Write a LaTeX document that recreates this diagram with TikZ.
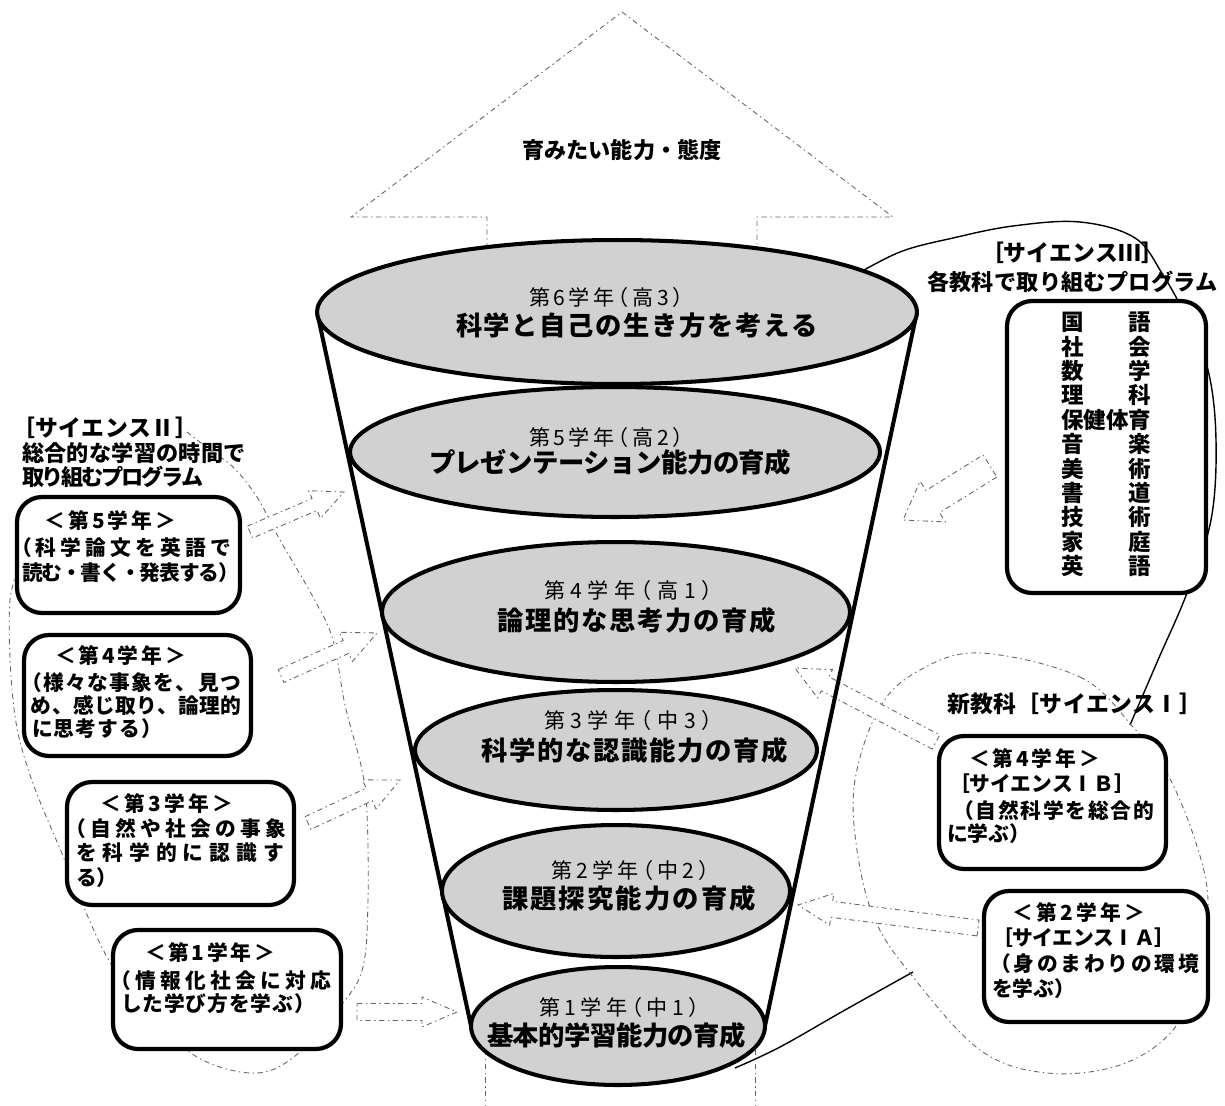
\documentclass[tikz,border=0pt]{standalone}
\usepackage{fontspec}
\setmainfont{Noto Sans CJK JP}
\usetikzlibrary{calc,shapes.geometric}
\makeatletter
\newcommand\spreadto[2]{\hbox to #1{\@tfor\sp@c:=#2\do{\sp@c\hskip 0pt plus 1fil minus 1fil}\unskip}}
\makeatother
\newdimen\pxu \pxu=0.02cm
\newcommand\fBx{\bfseries\fontsize{11.8pt}{14pt}\selectfont}
\newcommand\fTt{\bfseries\fontsize{12.6pt}{15pt}\selectfont}
\newcommand\fTb{\bfseries\fontsize{13pt}{15pt}\selectfont}
\newcommand\fEa{\fontsize{12pt}{14pt}\selectfont\addfontfeature{RawFeature=+halt}}
\newcommand\fEb{\bfseries\fontsize{15pt}{18pt}\selectfont}
\newcommand\fS{\bfseries\fontsize{12.8pt}{15pt}\selectfont}
\newcommand\tline[5]{\node[tl,font=#1] (#2) at (#3) {\spreadto{#4\pxu}{#5}};}
\newcommand\hollowarrow[5]{%
  \coordinate (neck) at ($(#2)!#5!(#1)$);
  \draw[harrow] ($(#1)!#3!90:(#2)$) -- ($(neck)!#3!90:(#2)$) -- ($(neck)!#4!90:(#2)$) -- (#2)
    -- ($(neck)!#4!-90:(#2)$) -- ($(neck)!#3!-90:(#2)$) -- ($(#1)!#3!-90:(#2)$) -- cycle;}
\pgfdeclarelayer{bg}\pgfdeclarelayer{walls}
\pgfsetlayers{bg,walls,main}
\tikzset{
  tl/.style={anchor=base, inner sep=0pt, outer sep=0pt},
  ell/.style={ellipse, draw=black, line width=2.3pt, fill=black!18, inner sep=0pt, outer sep=0pt},
  jbox/.style={draw=black, line width=2.4pt, rounded corners=0.5cm, fill=white, inner sep=0pt},
  wall/.style={line width=2.3pt, line cap=round},
  faint/.style={draw=black!60, line width=0.5pt, dash pattern=on 3pt off 2pt on 0.8pt off 2pt},
  harrow/.style={faint, fill=white},
  thincurve/.style={line width=0.8pt}
}
\begin{document}
\begin{tikzpicture}[x=0.02cm,y=-0.02cm]
\useasboundingbox (0,0) rectangle (1225,1106);

% ---------- funnel ellipses ----------
\node[ell, minimum width=5.88cm, minimum height=2.36cm] (E1) at (618,1026) {};
\node[ell, minimum width=6.96cm, minimum height=2.64cm] (E2) at (616,891) {};
\node[ell, minimum width=8.04cm, minimum height=2.4cm] (E3) at (616,750) {};
\node[ell, minimum width=9.36cm, minimum height=2.8cm] (E4) at (616,612) {};
\node[ell, minimum width=10.6cm, minimum height=2.6cm] (E5) at (615,452) {};
\node[ell, minimum width=12cm, minimum height=2.88cm] (E6) at (617,312) {};

\begin{pgfonlayer}{walls}
\draw[wall] (E6.west) -- (E1.west);
\draw[wall] (E6.east) -- (E1.east);
\end{pgfonlayer}

% ---------- background lines ----------
\begin{pgfonlayer}{bg}
\fill[white] (0,0) rectangle (1225,1106);
% big up arrow
\draw[faint] (487,262) -- (487,217) -- (351,217) -- (622,12) -- (893,217) -- (757,217) -- (757,262);
\draw[faint] (485,1050) -- (485,1106);
\draw[faint] (755,1050) -- (755,1106);
% Science II region
\draw[faint] plot[smooth, tension=0.6] coordinates {(25,560) (10,600) (13,700) (28,769) (63,856) (107,957) (150,1010) (197,1057) (257,1073) (300,1052) (343,1003) (363,967) (368,900) (367,813) (362,770) (345,705) (333,640) (313,597) (280,540) (257,497) (233,467) (210,450) (187,432)};
% Science III region
\draw[thincurve] plot[smooth, tension=0.6] coordinates {(850,278) (900,252) (953,238) (1013,226) (1080,222) (1135,238) (1163,275) (1185,315) (1208,370) (1216,440) (1211,520) (1187,593) (1158,660) (1130,725)};
\draw[thincurve] plot[smooth, tension=0.6] coordinates {(913,972) (845,1010) (780,1047) (735,1068)};
% Science I region
\draw[faint] plot[smooth cycle, tension=0.6] coordinates {(980,653) (1080,677) (1133,727) (1167,773) (1195,840) (1208,900) (1200,970) (1173,1030) (1120,1065) (1047,1073) (980,1050) (913,977) (875,920) (857,850) (855,780) (880,707) (920,670)};
% hollow arrows
\coordinate (a5t) at (250,532); \coordinate (a5h) at (344,492);
\coordinate (a4t) at (281,676); \coordinate (a4h) at (377,633);
\coordinate (a3t) at (308,823); \coordinate (a3h) at (400,780);
\coordinate (a1t) at (357,1012); \coordinate (a1h) at (457,1012);
\coordinate (a6t) at (990,466); \coordinate (a6h) at (903,520);
\coordinate (aBt) at (936,742); \coordinate (aBh) at (795,668);
\coordinate (aAt) at (978,928); \coordinate (aAh) at (798,905);
\hollowarrow{a5t}{a5h}{0.13cm}{0.3cm}{0.64cm}
\hollowarrow{a4t}{a4h}{0.14cm}{0.32cm}{0.68cm}
\hollowarrow{a3t}{a3h}{0.14cm}{0.32cm}{0.68cm}
\hollowarrow{a1t}{a1h}{0.17cm}{0.3cm}{0.7cm}
\hollowarrow{a6t}{a6h}{0.26cm}{0.48cm}{0.7cm}
\hollowarrow{aBt}{aBh}{0.16cm}{0.32cm}{0.68cm}
\hollowarrow{aAt}{aAh}{0.16cm}{0.32cm}{0.68cm}
\end{pgfonlayer}

% ---------- boxes ----------
\node[jbox, minimum width=4.46cm, minimum height=2.32cm] (B5) at (128.5,555) {};
\node[jbox, minimum width=4.54cm, minimum height=2.42cm] (B4) at (137.5,695.5) {};
\node[jbox, minimum width=4.54cm, minimum height=2.46cm] (B3) at (180.5,843.5) {};
\node[jbox, minimum width=4.56cm, minimum height=2.38cm] (B1) at (227,989.5) {};
\node[jbox, minimum width=4.54cm, minimum height=2.66cm] (BIB) at (1052.5,802.5) {};
\node[jbox, minimum width=4.48cm, minimum height=2.62cm] (BIA) at (1096,956.5) {};
\node[jbox, minimum width=3.98cm, minimum height=5.84cm] (BIII) at (1106.5,447) {};

% ---------- texts ----------
\tline{\fTt}{top}{622,158}{200}{育みたい能力・態度}

\tline{\fEa}{e6a}{606,305}{154}{第6学年（高3）}
\tline{\fEb}{e6b}{637,335}{362}{科学と自己の生き方を考える}
\tline{\fEa}{e5a}{606,445}{154}{第5学年（高2）}
\tline{\fEb}{e5b}{610,472}{362}{プレゼンテーション能力の育成}
\tline{\fEa}{e4a}{628,598}{168}{第4学年（高1）}
\tline{\fEb}{e4b}{636.5,630}{279}{論理的な思考力の育成}
\tline{\fEa}{e3a}{628,728}{168}{第3学年（中3）}
\tline{\fEb}{e3b}{634.5,760}{307}{科学的な認識能力の育成}
\tline{\fEa}{e2a}{630,878}{158}{第2学年（中2）}
\tline{\fEb}{e2b}{629,908}{254}{課題探究能力の育成}
\tline{\fEa}{e1a}{619,1015}{160}{第1学年（中1）}
\tline{\fEb}{e1b}{616.5,1045}{259}{基本的学習能力の育成}

\tline{\fTb}{s2a}{105,436}{186}{［サイエンスⅡ］}
\tline{\fTt}{s2b}{134,461}{224}{総合的な学習の時間で}
\tline{\fTt}{s2c}{113,485}{182}{取り組むプログラム}

\tline{\fBx}{b5a}{110.5,528}{131}{＜第5学年＞}
\tline{\fBx}{b5b}{121,555}{220}{（科学論文を英語で}
\tline{\fBx}{b5c}{130.5,580}{217}{読む・書く・発表する）}
\tline{\fBx}{b4a}{120.5,663}{131}{＜第4学年＞}
\tline{\fBx}{b4b}{131,690}{220}{（様々な事象を、見つ}
\tline{\fBx}{b4c}{136,713}{210}{め、感じ取り、論理的}
\tline{\fBx}{b4d}{97,736}{130}{に思考する）}
\tline{\fBx}{b3a}{166.5,811}{133}{＜第3学年＞}
\tline{\fBx}{b3b}{175.5,836}{221}{（自然や社会の事象}
\tline{\fBx}{b3c}{180,860}{208}{を科学的に認識す}
\tline{\fBx}{b3d}{96.7,885}{41.4}{る）}
\tline{\fBx}{b1a}{210,960}{130}{＜第1学年＞}
\tline{\fBx}{b1b}{220.5,988}{221}{（情報化社会に対応}
\tline{\fBx}{b1c}{218,1011}{194}{した学び方を学ぶ）}

\tline{\fTb}{s3a}{1072.5,261}{183}{［サイエンスⅢ］}
\tline{\fTt}{s3b}{1072.5,290}{291}{各教科で取り組むプログラム}
\tline{\fS}{r1}{1106,330.6}{90}{国語}
\tline{\fS}{r2}{1106,355}{90}{社会}
\tline{\fS}{r3}{1106,379.4}{90}{数学}
\tline{\fS}{r4}{1106,403.8}{90}{理科}
\tline{\fS}{r5}{1106,428.2}{90}{保健体育}
\tline{\fS}{r6}{1106,452.6}{90}{音楽}
\tline{\fS}{r7}{1106,477}{90}{美術}
\tline{\fS}{r8}{1106,501.4}{90}{書道}
\tline{\fS}{r9}{1106,525.8}{90}{技術}
\tline{\fS}{r10}{1106,550.2}{90}{家庭}
\tline{\fS}{r11}{1106,574.6}{90}{英語}

\tline{\fTb}{s1}{1074.5,712}{255}{新教科［サイエンスⅠ］}
\tline{\fBx}{ba}{1034.5,766}{131}{＜第4学年＞}
\tline{\fBx}{bb}{1042,791}{186}{［サイエンスⅠＢ］}
\tline{\fBx}{bc}{1053.5,818}{201}{（自然科学を総合的}
\tline{\fBx}{bd}{988.4,841}{82.8}{に学ぶ）}
\tline{\fBx}{aa}{1078.5,920}{133}{＜第2学年＞}
\tline{\fBx}{ab}{1083.5,945}{183}{［サイエンスⅠＡ］}
\tline{\fBx}{ac}{1094.5,971}{209}{（身のまわりの環境}
\tline{\fBx}{ad}{1033.4,996}{82.8}{を学ぶ）}
\end{tikzpicture}
\end{document}
